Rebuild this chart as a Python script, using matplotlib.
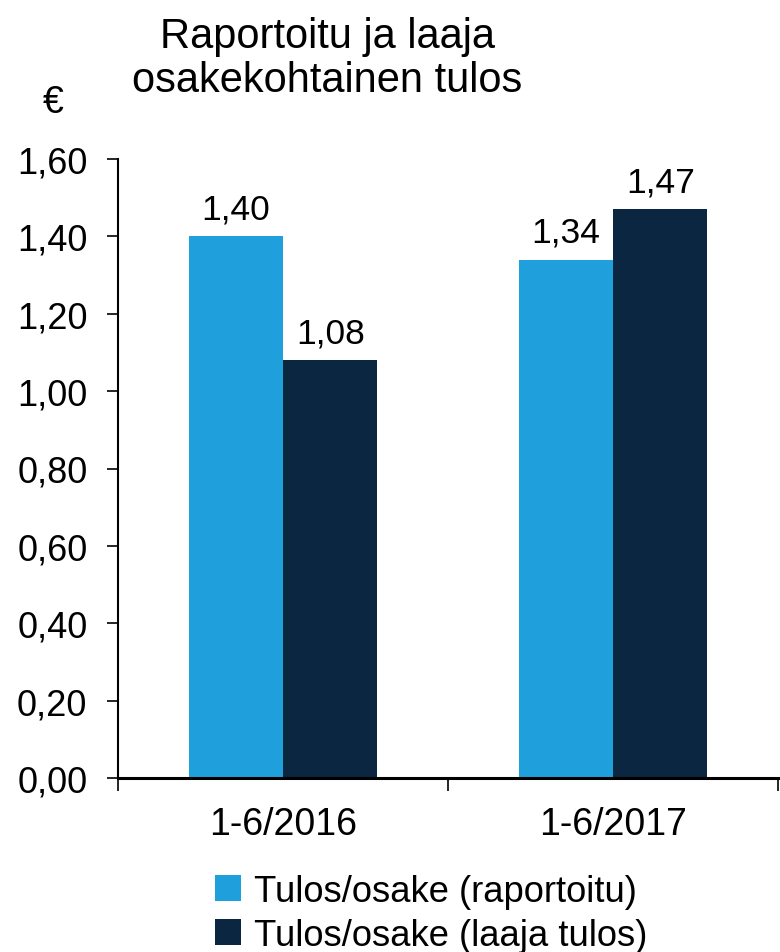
import matplotlib
matplotlib.use("Agg")
import matplotlib.pyplot as plt
import numpy as np

plt.rcParams['font.family'] = ['Liberation Sans', 'DejaVu Sans']

periods = ['1-6/2016', '1-6/2017']
reported = [1.40, 1.34]
comprehensive = [1.08, 1.47]
series_names = ['Tulos/osake (raportoitu)', 'Tulos/osake (laaja tulos)']
yticks = [0.0, 0.2, 0.4, 0.6, 0.8, 1.0, 1.2, 1.4, 1.6]

c_light = '#1FA0DC'
c_dark = '#0A2640'

fig = plt.figure(figsize=(7.8, 9.53), dpi=100)
ax = fig.add_axes([118/780, 174/953, 660/780, 619/953])

x = np.arange(len(periods)) + 0.5
w = 0.286
b1 = ax.bar(x - w/2, reported, w, color=c_light, label=series_names[0])
b2 = ax.bar(x + w/2, comprehensive, w, color=c_dark, label=series_names[1])

def fmt(v):
    return f'{v:.2f}'.replace('.', ',')

for bars, vals in [(b1, reported), (b2, comprehensive)]:
    for r, v in zip(bars, vals):
        ax.annotate(fmt(v), (r.get_x() + r.get_width()/2, v), xytext=(0, 8),
                    textcoords='offset points', ha='center', va='bottom', fontsize=25.5)

ax.set_xlim(0, 2)
ax.set_ylim(0, 1.6)
ax.set_yticks(yticks)
ax.set_yticklabels([fmt(v) for v in yticks], fontsize=26)
ax.set_xticks([0, 1, 2])
ax.set_xticklabels([])
ax.set_xticks(x, minor=True)
ax.set_xticklabels(periods, minor=True, fontsize=27)
ax.tick_params(axis='x', which='minor', length=0, pad=20)
ax.tick_params(axis='x', which='major', length=9, width=1.2, direction='out')
ax.tick_params(axis='y', length=8, width=1.2, direction='out', pad=14)

for s in ['top', 'right']:
    ax.spines[s].set_visible(False)
ax.spines['left'].set_linewidth(1.5)
ax.spines['bottom'].set_linewidth(2.2)

fig.text(327/780, 1 - 59/953, 'Raportoitu ja laaja\nosakekohtainen tulos', ha='center',
         va='center', fontsize=30, linespacing=1.1)
fig.text(53/780, 1 - 103/953, '€', ha='center', va='center', fontsize=27)

fig.legend(handles=[b1, b2], labels=series_names, loc='upper left',
           bbox_to_anchor=(215/780, 1 - 875/953), frameon=False, fontsize=26.2,
           handlelength=0.72, handleheight=0.72, handletextpad=0.35,
           labelspacing=0.25, borderpad=0, borderaxespad=0)

fig.savefig('out.png', dpi=100)
